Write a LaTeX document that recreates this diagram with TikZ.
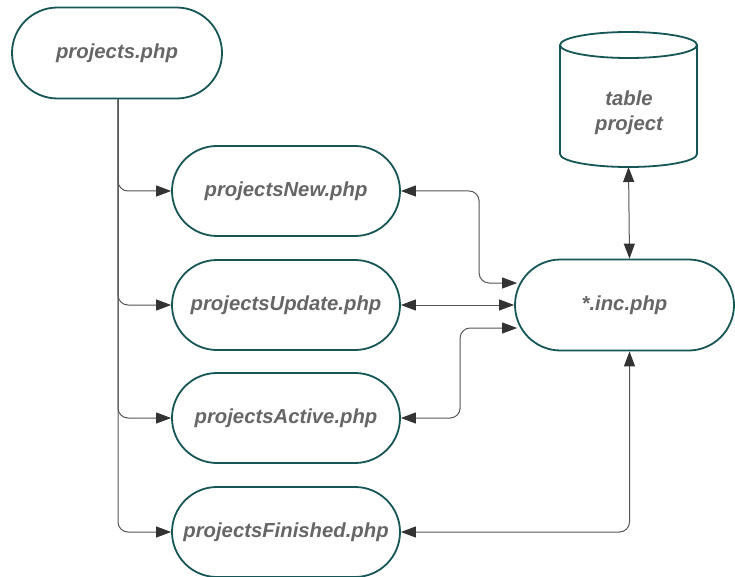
\documentclass[tikz,border=0pt]{standalone}
\usepackage{fontspec}
\setsansfont{Liberation Sans}
\usetikzlibrary{shapes.misc,arrows.meta}
\definecolor{boxline}{RGB}{22,86,86}
\definecolor{boxtext}{RGB}{102,102,102}
\definecolor{wire}{RGB}{85,85,85}
\tikzset{
  label font/.style={text=boxtext, font=\sffamily\bfseries\itshape\fontsize{20.3}{25}\selectfont, align=center},
  file/.style={rounded rectangle, draw=boxline, line width=1.8pt, fill=white,
    minimum width=228pt, minimum height=90pt, inner sep=0pt, label font},
  dbase/.style={draw=boxline, line width=1.8pt, fill=white},
  conn/.style={draw=wire, line width=1pt, rounded corners=10pt,
    -{Triangle[length=15pt,width=11pt,color=black!80]}},
  both/.style={conn, {Triangle[length=15pt,width=11pt,color=black!80]}-{Triangle[length=15pt,width=11pt,color=black!80]}}
}
\begin{document}
\begin{tikzpicture}[x=1pt,y=-1pt]
    \useasboundingbox[fill=white] (0,0) rectangle (735,577);
    % the php pages
    \node[file, minimum width=210pt, minimum height=91pt] (proj) at (117,53) {projects.php};
    \node[file] (new) at (286,191) {projectsNew.php};
    \node[file] (upd) at (286,305) {projectsUpdate.php};
    \node[file] (act) at (286,418) {projectsActive.php};
    \node[file] (fin) at (286,532) {projectsFinished.php};
    \node[file, minimum width=219pt, minimum height=91pt] (inc) at (624.5,305) {*.inc.php};
    % database table
    \draw[dbase] (560,45) -- (560,154)
        arc[start angle=180, end angle=360, x radius=68.5pt, y radius=13pt] -- (697,45);
    \draw[dbase] (628.5,45) ellipse [x radius=68.5pt, y radius=13pt];
    \coordinate (tblbot) at (628.5,167);
    \node[label font] (tbl) at (629,113) {table\\project};
    % links from the main page
    \draw[conn] ([xshift=1pt]proj.south) |- (new.west);
    \draw[conn] ([xshift=1pt]proj.south) |- (upd.west);
    \draw[conn] ([xshift=1pt]proj.south) |- (act.west);
    \draw[conn] ([xshift=1pt]proj.south) |- (fin.west);
    % calls into the include file
    \draw[both] (new.east) -| ([xshift=-35pt,yshift=22pt]inc.west) -- ([xshift=3pt,yshift=22pt]inc.west);
    \draw[both] (upd.east) -- (inc.west);
    \draw[both] (act.east) -| ([xshift=-54pt,yshift=-23pt]inc.west) -- ([xshift=3pt,yshift=-23pt]inc.west);
    \draw[both] (fin.east) -| ([xshift=5pt]inc.south);
    \draw[both] ([xshift=5pt]inc.north) -- (tblbot);
\end{tikzpicture}
\end{document}
